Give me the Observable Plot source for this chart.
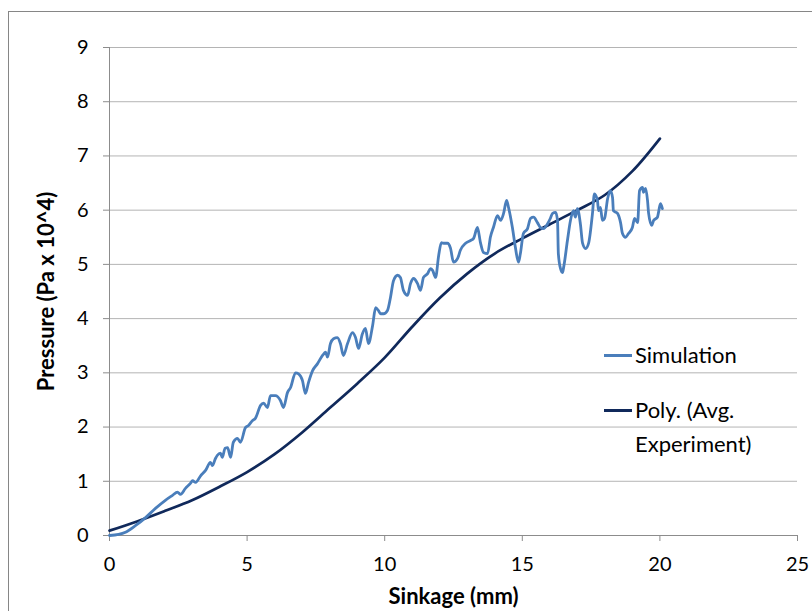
<!DOCTYPE html>
<html><head><meta charset="utf-8">
<script src="https://cdn.jsdelivr.net/npm/d3@7"></script>
<script src="https://cdn.jsdelivr.net/npm/@observablehq/plot@0.6"></script>
<style>
body{margin:0;background:#fff;}
#wrap{position:relative;width:812px;height:611px;overflow:hidden;font-family:Lato,"Open Sans",sans-serif;}
#wrap svg{position:absolute;left:0;top:0;}
#border{position:absolute;left:8px;top:11px;width:900px;height:700px;border:1px solid #868686;}
.lg-line{position:absolute;width:28px;height:3px;}
.lg-text{position:absolute;font-size:22px;color:#000;white-space:nowrap;}
</style></head>
<body><div id="wrap"><div id="border"></div></div>
<script>
// Simulation series: sinkage (mm) and pressure (Pa x 10^4)
const simX = [0,0.33,0.58,0.94,1.31,1.67,2.03,2.29,2.47,2.58,2.76,2.94,3.02,3.13,3.31,3.49,3.67,3.74,3.85,3.92,4.03,4.1,4.2,4.29,4.4,4.5,4.65,4.76,4.94,5.05,5.2,5.3,5.49,5.6,5.74,5.85,6.03,6.21,6.32,6.47,6.58,6.76,6.87,7.01,7.12,7.23,7.38,7.56,7.74,7.85,7.92,8.03,8.14,8.28,8.39,8.5,8.65,8.83,8.94,9.05,9.19,9.3,9.41,9.56,9.67,9.77,9.85,9.96,10.1,10.21,10.32,10.47,10.57,10.68,10.83,10.94,11.05,11.19,11.3,11.41,11.56,11.66,11.74,11.85,11.96,12.06,12.14,12.28,12.39,12.5,12.65,12.75,12.94,13.12,13.23,13.37,13.48,13.59,13.74,13.84,13.95,14.1,14.21,14.32,14.43,14.5,14.64,14.75,14.86,14.93,15.04,15.19,15.3,15.41,15.55,15.66,15.77,15.92,16.02,16.1,16.21,16.28,16.31,16.39,16.46,16.5,16.64,16.75,16.86,16.93,17.0,17.11,17.19,17.3,17.41,17.55,17.62,17.73,17.77,17.84,17.91,17.99,18.1,18.2,18.28,18.31,18.46,18.57,18.64,18.75,18.86,19.0,19.08,19.19,19.26,19.37,19.4,19.48,19.55,19.59,19.7,19.77,19.91,19.95,20.02,20.09];
const simY = [0,0.02,0.06,0.18,0.33,0.5,0.65,0.74,0.8,0.76,0.87,0.96,1.01,0.98,1.1,1.2,1.35,1.29,1.42,1.48,1.52,1.44,1.61,1.62,1.44,1.72,1.79,1.72,1.99,2.03,2.12,2.16,2.4,2.44,2.36,2.58,2.58,2.49,2.36,2.64,2.73,3.0,2.98,2.86,2.62,2.82,3.04,3.17,3.32,3.38,3.29,3.54,3.63,3.65,3.54,3.32,3.54,3.74,3.65,3.45,3.72,3.82,3.54,3.87,4.2,4.15,4.09,4.09,4.15,4.39,4.7,4.8,4.76,4.52,4.43,4.65,4.74,4.65,4.52,4.76,4.83,4.92,4.89,4.76,5.16,5.4,5.39,5.39,5.3,5.04,5.11,5.26,5.39,5.44,5.48,5.68,5.4,5.22,5.2,5.5,5.68,5.9,5.81,5.94,6.18,6.05,5.68,5.31,5.04,5.2,5.57,5.66,5.85,5.87,5.77,5.68,5.66,5.75,5.85,5.94,5.96,5.81,5.2,4.92,4.85,4.94,5.44,5.81,5.99,5.87,6.03,5.75,5.39,5.29,5.39,5.94,6.3,6.18,5.99,6.05,5.81,5.85,6.21,6.36,6.23,5.99,5.94,5.77,5.57,5.5,5.57,5.68,5.85,5.77,6.36,6.42,6.33,6.4,6.18,5.94,5.72,5.81,5.87,5.96,6.12,6.03];
// Polynomial trend line of averaged experiment
const polyX = [0,1,2,3,4,5,6,7,8,9,10,11,12,13,14,15,16,17,18,19,20];
const polyY = [0.09,0.26,0.45,0.65,0.9,1.17,1.5,1.9,2.35,2.8,3.28,3.85,4.38,4.83,5.2,5.48,5.74,6.0,6.28,6.72,7.32];
const xTicks = [0,5,10,15,20,25];
const yTicks = [0,1,2,3,4,5,6,7,8,9];
const seriesNames = ["Simulation", "Poly. (Avg.", "Experiment)"];
const xTitle = "Sinkage (mm)";
const yTitle = "Pressure (Pa x 10^4)";

const simColor = "#4A7EBB";
const polyColor = "#10295B";

const sim = simX.map((x, i) => ({x, y: simY[i]}));
const poly = polyX.map((x, i) => ({x, y: polyY[i]}));

const font = 'Lato, "Open Sans", sans-serif';
const chart = Plot.plot({
  width: 812, height: 611,
  marginLeft: 109, marginRight: 15, marginTop: 47, marginBottom: 76,
  style: {fontFamily: font, fontSize: "20px", color: "#000", background: "transparent"},
  x: {domain: [0, 25], ticks: xTicks},
  y: {domain: [0, 9], ticks: yTicks},
  marks: [
    Plot.ruleY(yTicks.slice(1), {stroke: "#b4b4b4", strokeWidth: 1, strokeOpacity: 1}),
    Plot.ruleY([0], {stroke: "#8c8c8c", strokeWidth: 1}),
    Plot.ruleX([0], {stroke: "#8c8c8c", strokeWidth: 1}),
    Plot.axisY({ticks: yTicks, tickSize: 6, tickPadding: 15, label: null, stroke: "#8c8c8c", fontSize: 20, fill: "#000"}),
    Plot.axisX({ticks: xTicks, tickSize: 6, tickPadding: 15, label: null, stroke: "#8c8c8c", fontSize: 20, fill: "#000"}),
    Plot.line(poly, {x: "x", y: "y", stroke: polyColor, strokeWidth: 2.7, curve: "catmull-rom"}),
    Plot.line(sim, {x: "x", y: "y", stroke: simColor, strokeWidth: 2.8, curve: "monotone-x", strokeLinejoin: "round"}),
    Plot.text([xTitle], {frameAnchor: "bottom", dy: 61, lineAnchor: "middle", fontWeight: "bold", fontSize: 22, fill: "#000"}),
    Plot.text([yTitle], {frameAnchor: "left", dx: -63, rotate: -90, lineAnchor: "middle", textAnchor: "middle", fontWeight: "bold", fontSize: 22, fill: "#000"})
  ]
});
const wrap = document.getElementById("wrap");
wrap.appendChild(chart);

function add(cls, css, text) {
  const d = document.createElement("div");
  d.className = cls;
  Object.assign(d.style, css);
  if (text != null) d.innerHTML = text;
  wrap.appendChild(d);
}
add("lg-line", {left: "604px", top: "354px", background: simColor});
add("lg-text", {left: "635px", top: "341px", lineHeight: "28px"}, seriesNames[0]);
add("lg-line", {left: "604px", top: "409px", background: polyColor});
add("lg-text", {left: "635px", top: "393px", lineHeight: "34px"}, seriesNames[1] + "<br>" + seriesNames[2]);
</script>
</body></html>
